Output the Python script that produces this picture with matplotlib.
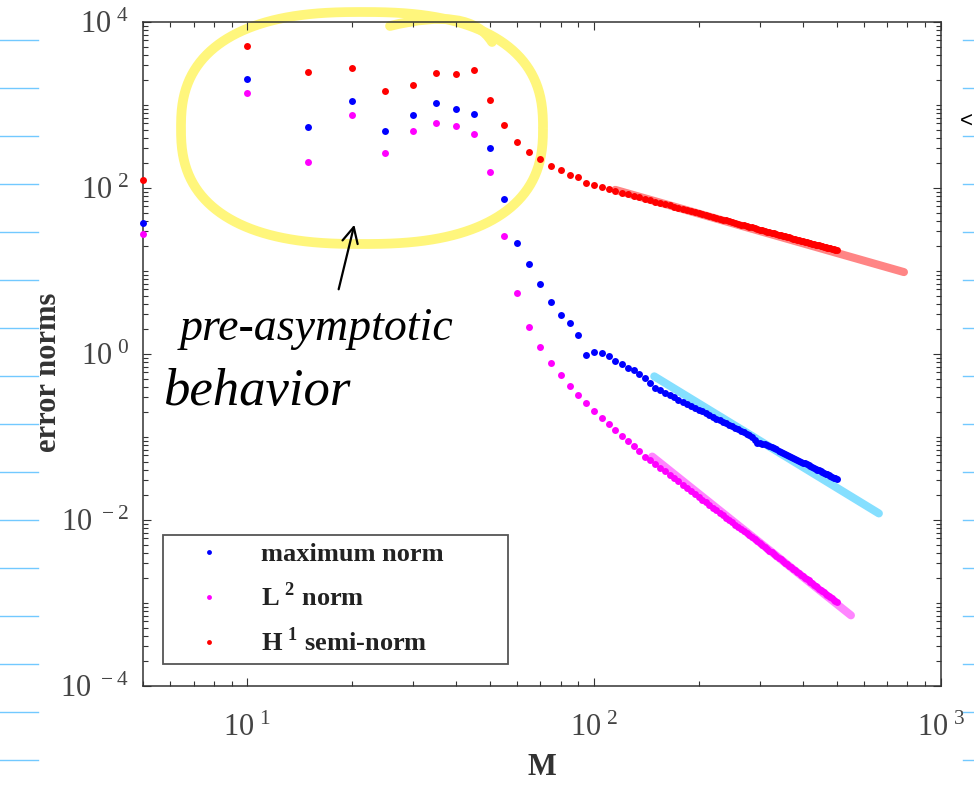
import numpy as np
import matplotlib
matplotlib.use("Agg")
import matplotlib.pyplot as plt
from matplotlib import patches
from matplotlib.lines import Line2D
from matplotlib.path import Path
from matplotlib.ticker import FixedLocator, LogLocator, FuncFormatter, NullFormatter

plt.rcParams["font.family"] = "Liberation Serif"
plt.rcParams["mathtext.fontset"] = "custom"
plt.rcParams["mathtext.rm"] = "Liberation Serif"
plt.rcParams["mathtext.bf"] = "Liberation Serif:bold"

# number of grid cells
M = np.arange(5, 501, 5)

err_max = [
    37.9, 2030, 550, 1110, 482, 751, 1050, 898, 788, 303,
    74.0, 21.9, 12.0, 6.95, 4.18, 2.96, 2.37, 1.70, 0.964, 1.06,
    1.02, 0.938, 0.817, 0.750, 0.678, 0.635, 0.573, 0.508, 0.443, 0.393,
    0.364, 0.340, 0.319, 0.300, 0.282, 0.266, 0.251, 0.238, 0.225, 0.214,
    0.203, 0.193, 0.184, 0.175, 0.167, 0.160, 0.153, 0.146, 0.140, 0.134,
    0.129, 0.124, 0.119, 0.114, 0.110, 0.106, 0.100, 0.0912, 0.0851, 0.0841,
    0.0832, 0.0822, 0.0804, 0.0778, 0.0753, 0.0730, 0.0708, 0.0687, 0.0667, 0.0647,
    0.0629, 0.0611, 0.0594, 0.0578, 0.0562, 0.0547, 0.0532, 0.0519, 0.0505, 0.0492,
    0.0480, 0.0468, 0.0457, 0.0446, 0.0435, 0.0424, 0.0415, 0.0405, 0.0396, 0.0387,
    0.0378, 0.0370, 0.0361, 0.0354, 0.0346, 0.0339, 0.0332, 0.0325, 0.0318, 0.0312,
]

err_l2 = [
    28.0, 1410, 207, 767, 264, 491, 614, 560, 443, 156,
    26.4, 5.41, 2.14, 1.22, 0.787, 0.557, 0.415, 0.323, 0.254, 0.203,
    0.169, 0.143, 0.122, 0.104, 0.0897, 0.0782, 0.0673, 0.0581, 0.0528,
    0.0475, 0.0428, 0.0387, 0.0350, 0.0319, 0.0291, 0.0266, 0.0244, 0.0224, 0.0206,
    0.0190, 0.0176, 0.0163, 0.0151, 0.0140, 0.0131, 0.0122, 0.0114, 0.0106, 0.00997,
    0.00935, 0.00878, 0.00825, 0.00777, 0.00732, 0.00691, 0.00652, 0.00617, 0.00583, 0.00553,
    0.00524, 0.00497, 0.00472, 0.00448, 0.00427, 0.00406, 0.00387, 0.00369, 0.00352, 0.00336,
    0.00321, 0.00307, 0.00293, 0.00281, 0.00269, 0.00258, 0.00247, 0.00237, 0.00227, 0.00218,
    0.00210, 0.00202, 0.00194, 0.00187, 0.00180, 0.00173, 0.00167, 0.00161, 0.00155, 0.00149,
    0.00144, 0.00139, 0.00134, 0.00130, 0.00126, 0.00121, 0.00117, 0.00114, 0.00110, 0.00106,
    0.00103,
]

err_h1 = [
    126, 5130, 2470, 2780, 1480, 1730, 2400, 2350, 2610, 1160,
    569, 359, 269, 221, 185, 163, 143, 135, 116, 110,
    103, 97.0,
    92.5, 88.2, 84.2, 80.6, 77.3, 74.2, 71.3, 68.7, 66.2, 63.9,
    61.7, 59.7, 57.8, 56.0, 54.3, 52.7, 51.2, 49.8, 48.4, 47.1,
    45.9, 44.7, 43.6, 42.6, 41.5, 40.6, 39.6, 38.8, 37.9, 37.1,
    36.3, 35.6, 34.8, 34.1, 33.5, 32.8, 32.2, 31.6, 31.0, 30.4,
    29.9, 29.4, 28.9, 28.4, 27.9, 27.5, 27.0, 26.6, 26.2, 25.8,
    25.4, 25.0, 24.6, 24.2, 23.9, 23.6, 23.2, 22.9, 22.6, 22.3,
    22.0, 21.7, 21.4, 21.1, 20.8, 20.6, 20.3, 20.1, 19.8, 19.6,
    19.3, 19.1, 18.9, 18.7, 18.5, 18.2, 18.0, 17.8,
]

# hand-drawn reference slopes over the asymptotic range
ref_max_M, ref_max_err = [149, 662], [0.538, 0.012]
ref_l2_M, ref_l2_err = [147, 550], [0.0581, 7.1e-4]
ref_h1_M, ref_h1_err = [115, 782], [95.0, 9.7]

W, H = 974, 789
fig = plt.figure(figsize=(W / 100, H / 100), dpi=100)
fig.patch.set_facecolor("white")


def fpx(x, y):
    """pixel position (from top-left) -> figure fraction"""
    return (x / W, 1 - y / H)


ax = fig.add_axes([143 / W, 1 - 686 / H, 798 / W, 664 / H])
ax.patch.set_alpha(0)
ax.set_xscale("log")
ax.set_yscale("log")
ax.set_xlim(5, 1000)
ax.set_ylim(1e-4, 1e4)

ax.xaxis.set_major_locator(FixedLocator([10, 100, 1000]))
ax.yaxis.set_major_locator(FixedLocator([1e-4, 1e-2, 1, 1e2, 1e4]))
ax.xaxis.set_minor_locator(LogLocator(base=10, subs=np.arange(2, 10), numticks=50))
ax.yaxis.set_minor_locator(LogLocator(base=10, subs=np.arange(1, 10), numticks=50))
ax.xaxis.set_minor_formatter(NullFormatter())
ax.yaxis.set_minor_formatter(NullFormatter())


def decade(v, pos):
    return r"$\mathregular{10^{\;%d}}$" % int(round(np.log10(v)))


ax.xaxis.set_major_formatter(FuncFormatter(decade))
ax.yaxis.set_major_formatter(FuncFormatter(decade))

ax.tick_params(which="both", direction="in", top=True, right=True,
               color="#333333", width=0.8, labelsize=22, labelcolor="#444444")
ax.tick_params(which="major", length=5.8)
ax.tick_params(which="minor", length=3.6)
ax.tick_params(axis="x", pad=20)
ax.tick_params(axis="y", pad=10)
for s in ax.spines.values():
    s.set_linewidth(1.1)
    s.set_color("#333333")

# reference slope strokes sit beneath the data
ref_kw = dict(lw=5.8, solid_capstyle="round", zorder=2, clip_on=False)
ax.plot(ref_max_M, ref_max_err, color="#85dfff", **ref_kw)
ax.plot(ref_l2_M, ref_l2_err, color="#ff85ff", **ref_kw)
ax.plot(ref_h1_M, ref_h1_err, color="#ff8585", **ref_kw)

kw = dict(ls="none", marker="o", ms=5, mew=0, clip_on=False, zorder=3)
ax.plot(M, err_max, color="#0000ff", label="maximum norm", **kw)
ax.plot(M, err_l2, color="#ff00ff", label=r"$\mathbf{L}^{\ \mathbf{2}}$ norm", **kw)
ax.plot(M, err_h1, color="#ff0000", label=r"$\mathbf{H}^{\ \mathbf{1}}$ semi-norm", **kw)

leg = ax.legend(loc="lower left", bbox_to_anchor=(0.025, 0.033, 0.432, 0.2),
                mode="expand", borderaxespad=0, fancybox=False, framealpha=1,
                edgecolor="#555555", prop=dict(weight="bold", size=19),
                handlelength=2.9, handletextpad=0.5, borderpad=0.3,
                labelspacing=0.62, markerscale=0.7, numpoints=1)
leg.get_frame().set_linewidth(1.3)
for t in leg.get_texts():
    t.set_color("#222222")

ax.set_xlabel("M", fontsize=22, fontweight="bold", color="#333333")
ax.xaxis.set_label_coords(0.5, -0.101)
ax.set_ylabel("error norms", fontsize=22, fontweight="bold", color="#333333")
ax.yaxis.set_label_coords(-0.118, 0.473)
ax.yaxis.label.set_verticalalignment("center")

# notebook rulings at the page margins
for y in range(40, H, 48):
    fig.add_artist(Line2D([0, 38 / W], [1 - y / H] * 2, color="#72c9ff", lw=1))
    fig.add_artist(Line2D([963 / W, 1], [1 - y / H] * 2, color="#72c9ff", lw=1))
fig.text(*fpx(973, 121), "<", fontsize=16, family="Liberation Sans",
         ha="right", va="center", color="black")

# yellow highlighter loop round the early points
t = np.linspace(0, 2 * np.pi, 300)
n = 2.5
cx, cy, a, b = 362, 128, 181, 116
lx = cx + a * np.sign(np.cos(t)) * np.abs(np.cos(t)) ** (2 / n)
ly = cy + b * np.sign(np.sin(t)) * np.abs(np.sin(t)) ** (2 / n)
loop = Path(np.column_stack([lx / W, 1 - ly / H]))
fig.add_artist(patches.PathPatch(loop, transform=fig.transFigure, fill=False,
                                 edgecolor="#fff67c", lw=7, zorder=-1))
tail = Path([fpx(390, 26), fpx(470, 6), fpx(492, 42)],
            [Path.MOVETO, Path.CURVE3, Path.CURVE3])
fig.add_artist(patches.PathPatch(tail, transform=fig.transFigure, fill=False,
                                 edgecolor="#fff67c", lw=7, zorder=-1,
                                 capstyle="round"))

# handwritten note and arrow
fig.add_artist(patches.FancyArrowPatch(fpx(338, 292), fpx(355, 222),
                                       transform=fig.transFigure,
                                       arrowstyle="->", mutation_scale=28,
                                       lw=1.6, color="black", zorder=5))
fig.text(*fpx(180, 340), "pre-asymptotic", fontsize=33, style="italic",
         va="baseline", color="black")
fig.text(*fpx(163, 405), "behavior", fontsize=38, style="italic",
         va="baseline", color="black")

fig.savefig("out.png", dpi=100)
